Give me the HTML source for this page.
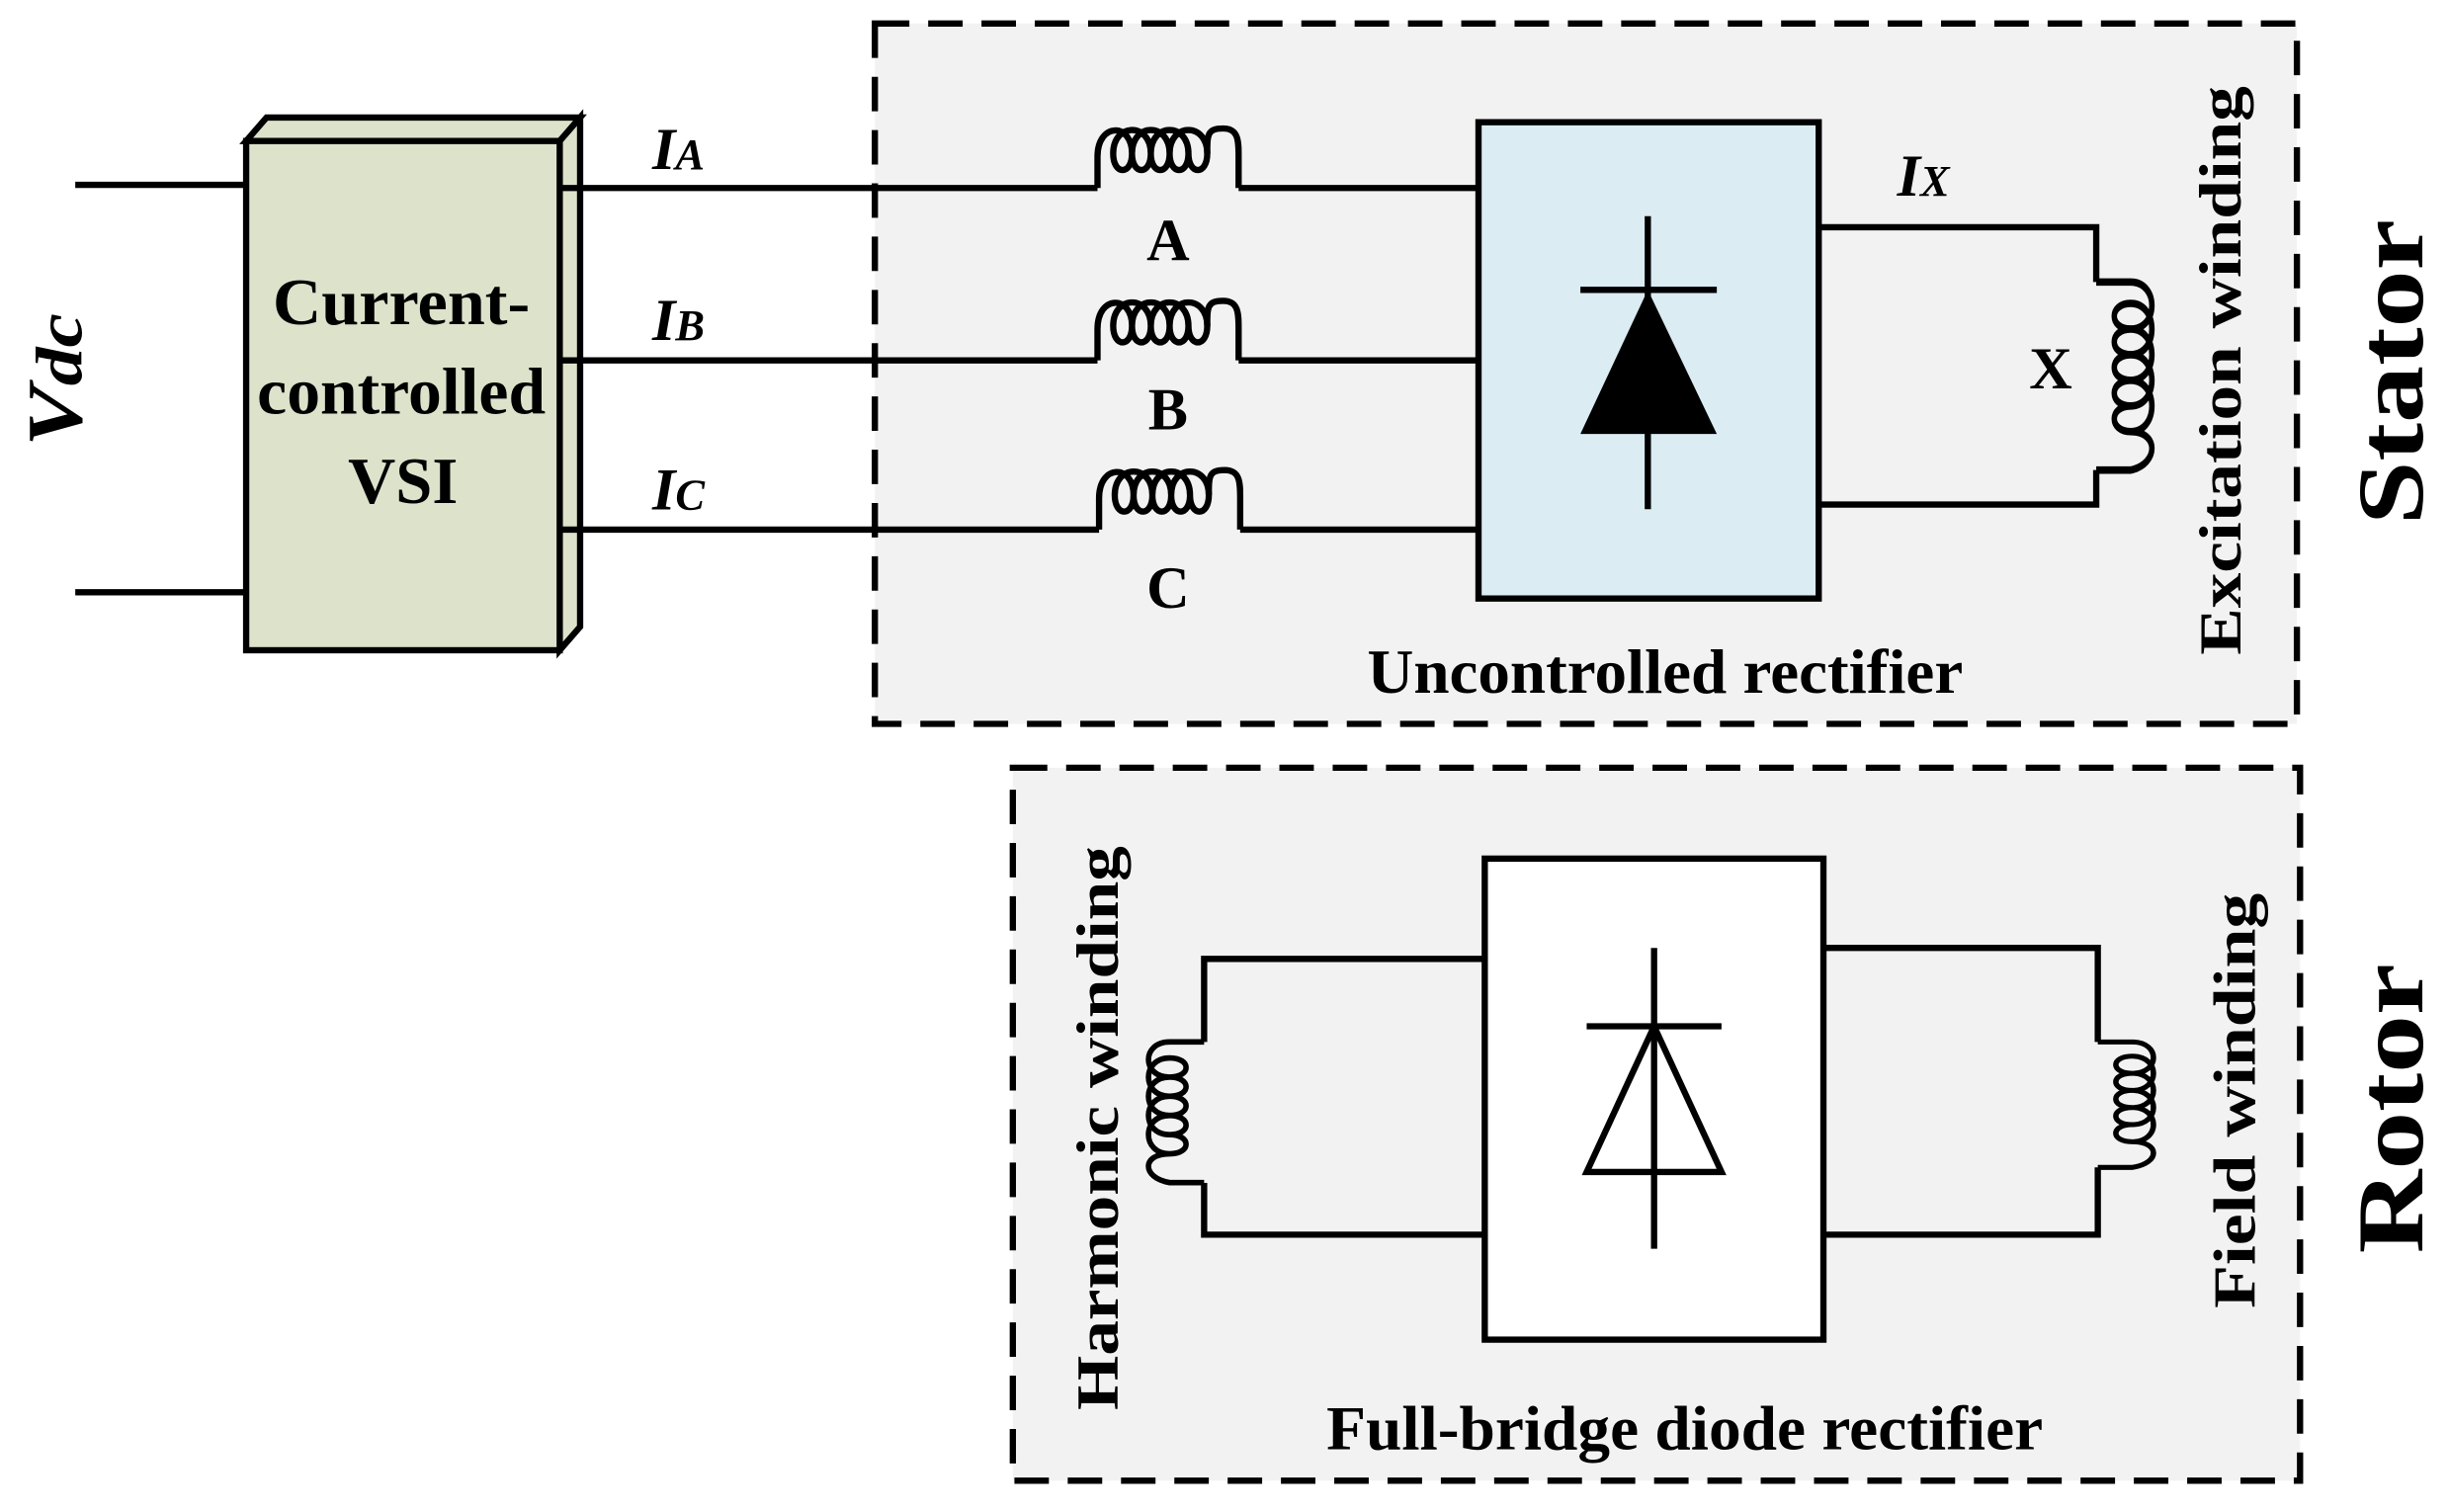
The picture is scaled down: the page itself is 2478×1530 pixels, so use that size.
<!DOCTYPE html>
<html><head><meta charset="utf-8"><style>
html,body{margin:0;padding:0;background:#fff;}
svg{display:block;}
text{font-family:"Liberation Serif","Times New Roman",serif;font-weight:bold;fill:#000;}
</style></head><body>
<svg width="2478" height="1530" viewBox="0 0 1562 965" preserveAspectRatio="none" xmlns="http://www.w3.org/2000/svg">
<defs>
<g id="hcoil" fill="none" stroke="#000" stroke-width="4">
  <path d="M0 0 V-20 C0 -42 22 -42 22 -22 C22 -8 10 -8 10 -22 C10 -42 34 -42 34 -22 C34 -8 22 -8 22 -22 C22 -42 46 -42 46 -22 C46 -8 34 -8 34 -22 C34 -42 58 -42 58 -22 C58 -8 46 -8 46 -22 C46 -42 70 -42 70 -22 C70 -8 58 -8 58 -22"/>
  <path d="M70 -22 C70 -34 70 -38 80 -38 C90 -38 90 -30 90 -20 V0"/>
</g>
<g id="vcoil" fill="none" stroke="#000" stroke-width="3.5">
  <path d="M0 0 H22 C40 0 40 22 22 22 C8 22 8 10 22 10 C40 10 40 34 22 34 C8 34 8 22 22 22 C40 22 40 46 22 46 C8 46 8 34 22 34 C40 34 40 58 22 58 C8 58 8 46 22 46 C40 46 40 70 22 70 C8 70 8 58 22 58 M22 70 C40 70 40 85 22 88 H0"/>
</g>
</defs>
<rect x="558" y="15" width="907" height="447" fill="#f2f2f2" stroke="#000" stroke-width="4" stroke-dasharray="22,12"/>
<rect x="646" y="490" width="821" height="455" fill="#f2f2f2" stroke="#000" stroke-width="4" stroke-dasharray="22,12"/>
<polygon points="157,90 170,75 370,75 357,90" fill="#dde2cb" stroke="#000" stroke-width="4"/>
<polygon points="357,90 370,75 370,400 357,415" fill="#dde2cb" stroke="#000" stroke-width="4"/>
<rect x="157" y="90" width="200" height="325" fill="#dde2cb" stroke="#000" stroke-width="4"/>
<text x="174" y="207" font-size="42" textLength="164" lengthAdjust="spacingAndGlyphs">Current-</text>
<text x="164" y="264" font-size="42" textLength="184" lengthAdjust="spacingAndGlyphs">controlled</text>
<text x="257" y="321" font-size="42" text-anchor="middle">VSI</text>
<g stroke="#000" stroke-width="4" fill="none">
<line x1="48" y1="118" x2="157" y2="118"/>
<line x1="48" y1="378" x2="157" y2="378"/>
<line x1="357" y1="120" x2="700" y2="120"/><line x1="790" y1="120" x2="943" y2="120"/>
<line x1="357" y1="230" x2="700" y2="230"/><line x1="790" y1="230" x2="943" y2="230"/>
<line x1="357" y1="338" x2="701" y2="338"/><line x1="791" y1="338" x2="943" y2="338"/>
</g>
<use href="#hcoil" x="700" y="120"/>
<use href="#hcoil" x="700" y="230"/>
<use href="#hcoil" x="701" y="338"/>
<text transform="translate(52 285) rotate(-90)" font-size="50" font-style="italic" textLength="85" lengthAdjust="spacingAndGlyphs">V<tspan font-size="42">dc</tspan></text>
<text x="416" y="108" font-size="38" font-style="italic" font-weight="normal">I<tspan font-size="28">A</tspan></text>
<text x="416" y="217" font-size="38" font-style="italic" font-weight="normal">I<tspan font-size="28">B</tspan></text>
<text x="416" y="325" font-size="38" font-style="italic" font-weight="normal">I<tspan font-size="28">C</tspan></text>
<text x="745" y="166" font-size="38" text-anchor="middle">A</text>
<text x="745" y="274" font-size="38" text-anchor="middle">B</text>
<text x="745" y="388" font-size="38" text-anchor="middle">C</text>
<rect x="943" y="78" width="217" height="304" fill="#dbecf3" stroke="#000" stroke-width="4"/>
<g stroke="#000" stroke-width="4">
<line x1="1051" y1="138" x2="1051" y2="325"/>
<line x1="1008" y1="185" x2="1095" y2="185"/>
</g>
<polygon points="1051,185 1008,277 1095,277" fill="#000"/>
<path d="M1160 145 H1337 V180 M1337 300 V322 H1160" fill="none" stroke="#000" stroke-width="4"/>
<use href="#vcoil" transform="translate(1337 180) scale(1 1.364)"/>
<text x="1210" y="125" font-size="38" font-style="italic" font-weight="normal">I<tspan font-size="28">X</tspan></text>
<text x="1308" y="248" font-size="38" text-anchor="middle">X</text>
<text x="872" y="442" font-size="40" textLength="380" lengthAdjust="spacingAndGlyphs">Uncontrolled rectifier</text>
<text transform="translate(1429 418) rotate(-90)" font-size="38" textLength="363" lengthAdjust="spacingAndGlyphs">Excitation winding</text>
<text transform="translate(1545 335) rotate(-90)" font-size="60" textLength="195" lengthAdjust="spacingAndGlyphs">Stator</text>
<rect x="947" y="548" width="216" height="307" fill="#fff" stroke="#000" stroke-width="4"/>
<g stroke="#000" stroke-width="4" fill="none">
<line x1="1055" y1="605" x2="1055" y2="797"/>
<line x1="1012" y1="655" x2="1098" y2="655"/>
<polygon points="1055,655 1012,748 1098,748"/>
<path d="M947 612 H768 V665 M768 755 V788 H947"/>
<path d="M1163 605 H1338 V665 M1338 745 V788 H1163"/>
</g>
<use href="#vcoil" transform="translate(768 665) scale(-1 1.02)"/>
<use href="#vcoil" transform="translate(1338 665) scale(1 0.91)"/>
<text transform="translate(713 900) rotate(-90)" font-size="38" textLength="360" lengthAdjust="spacingAndGlyphs">Harmonic winding</text>
<text transform="translate(1438 835) rotate(-90)" font-size="38" textLength="265" lengthAdjust="spacingAndGlyphs">Field winding</text>
<text transform="translate(1545 800) rotate(-90)" font-size="60" textLength="185" lengthAdjust="spacingAndGlyphs">Rotor</text>
<text x="846" y="925" font-size="40" textLength="457" lengthAdjust="spacingAndGlyphs">Full-bridge diode rectifier</text>
</svg>
</body></html>
